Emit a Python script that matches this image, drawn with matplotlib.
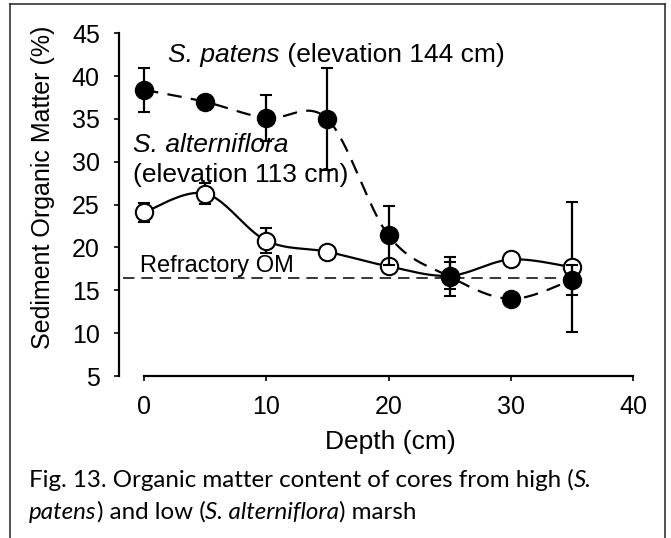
import numpy as np
import matplotlib
matplotlib.use("Agg")
import matplotlib.pyplot as plt
from matplotlib.lines import Line2D

# Sediment organic matter (%) by core depth (cm)
depth = [0, 5, 10, 15, 20, 25, 30, 35]
patens_om = [38.4, 37.0, 35.1, 35.0, 21.4, 16.6, 14.0, 16.2]
patens_err = [2.6, 0.3, 2.7, 5.9, 3.5, 2.3, 0.5, 1.8]
altern_om = [24.1, 26.3, 20.8, 19.5, 17.8, 16.7, 18.6, 17.7]
altern_err = [1.1, 1.2, 1.5, 0.4, 0.4, 1.6, 0.4, 7.6]
refractory_om = 16.4
refractory_span = [-1.7, 35]

x_ticks = [0, 10, 20, 30, 40]
y_ticks = [5, 10, 15, 20, 25, 30, 35, 40, 45]

W, H = 671, 538
SANS = "Liberation Sans"
CAPTION_FONT = "Lato"


def smooth_curve(x, y, n=40):
    """Bezier smoothing through every point (Catmull-Rom tangents)."""
    x = np.asarray(x, float)
    y = np.asarray(y, float)
    px = np.concatenate([[x[0]], x, [x[-1]]])
    py = np.concatenate([[y[0]], y, [y[-1]]])
    t = np.linspace(0, 1, n)[:, None]
    out = []
    for i in range(1, len(px) - 2):
        p0 = np.array([px[i], py[i]])
        p3 = np.array([px[i + 1], py[i + 1]])
        c1 = p0 + np.array([px[i + 1] - px[i - 1], py[i + 1] - py[i - 1]]) / 6
        c2 = p3 - np.array([px[i + 2] - px[i], py[i + 2] - py[i]]) / 6
        seg = ((1 - t) ** 3) * p0 + 3 * ((1 - t) ** 2) * t * c1 \
            + 3 * (1 - t) * t ** 2 * c2 + t ** 3 * p3
        out.append(seg if i == 1 else seg[1:])
    pts = np.vstack(out)
    return pts[:, 0], pts[:, 1]


fig = plt.figure(figsize=(W / 100, H / 100), dpi=100)
renderer = fig.canvas.get_renderer()


def text_width(s, **kw):
    """Pixel width of a string, spaces included."""
    a = fig.text(0, 0, "|" + s + "|", **kw)
    b = fig.text(0, 0, "||", **kw)
    w = a.get_window_extent(renderer).width - b.get_window_extent(renderer).width
    a.remove()
    b.remove()
    return w


def draw_runs(x_px, y_px, runs, **kw):
    """Write (text, style) runs one after another along a baseline."""
    x = x_px
    for s, style in runs:
        fig.text(x / W, 1 - y_px / H, s, style=style, ha="left",
                 va="baseline", **kw)
        x += text_width(s, style=style, **kw)


# outer frame
frame_kw = dict(color="#222222", lw=1.1, transform=fig.transFigure)
fig.add_artist(Line2D([10 / W, 10 / W], [0, 1 - 4 / H], **frame_kw))
fig.add_artist(Line2D([10 / W, 665 / W], [1 - 4 / H, 1 - 4 / H], **frame_kw))
fig.add_artist(Line2D([665 / W, 665 / W], [0, 1 - 4 / H], **frame_kw))

ax = fig.add_axes([119 / W, 162 / H, 514 / W, 342.7 / H])
ax.set_xlim(-2.05, 40)
ax.set_ylim(5, 45)
for side in ("top", "right"):
    ax.spines[side].set_visible(False)
ax.spines["bottom"].set_bounds(0, 40)
for side in ("left", "bottom"):
    ax.spines[side].set_linewidth(1.6)
ax.set_xticks(x_ticks)
ax.set_yticks(y_ticks)
ax.tick_params(direction="out", length=3.8, width=1.2, pad=10,
               labelsize=18)
for lab in ax.get_xticklabels() + ax.get_yticklabels():
    lab.set_fontfamily(SANS)

# refractory OM baseline
ax.plot(refractory_span, [refractory_om, refractory_om], color="black",
        lw=1.1, dashes=[7.5, 4.5], zorder=2)

# smoothed series lines
sx, sy = smooth_curve(depth, altern_om)
ax.plot(sx, sy, color="black", lw=1.6, zorder=3)
sx, sy = smooth_curve(depth, patens_om)
ax.plot(sx, sy, color="black", lw=1.6, dashes=[6.5, 4.2], zorder=3)

# markers with error bars
ax.errorbar(depth, altern_om, yerr=altern_err, fmt="o", ms=12.5,
            mfc="white", mec="black", mew=1.5, ecolor="black",
            elinewidth=1.6, capsize=4.3, capthick=1.6, zorder=4)
ax.errorbar(depth, patens_om, yerr=patens_err, fmt="o", ms=12.5,
            mfc="black", mec="black", mew=1.5, ecolor="black",
            elinewidth=1.6, capsize=4.3, capthick=1.6, zorder=5)

# axis titles
fig.text(390 / W, 1 - 442 / H, "Depth (cm)", ha="center", va="center",
         fontsize=19, family=SANS)
fig.text(43 / W, 1 - 187 / H, "Sediment Organic Matter (%)", ha="center",
         va="center", rotation=90, fontsize=18, family=SANS)

# series annotations
draw_runs(168, 62, [("S. patens", "italic"),
                    (" (elevation 144 cm)", "normal")],
          fontsize=19, family=SANS)
draw_runs(133, 152, [("S. alterniflora", "italic")], fontsize=19, family=SANS)
draw_runs(133, 182, [("(elevation 113 cm)", "normal")], fontsize=19,
          family=SANS)
draw_runs(140, 272, [("Refractory OM", "normal")], fontsize=17, family=SANS)

# figure caption
draw_runs(29, 487, [("Fig. 13. Organic matter content of cores from high (",
                     "normal"), ("S.", "italic")],
          fontsize=17.4, family=CAPTION_FONT)
draw_runs(29, 519, [("patens", "italic"), (") and low (", "normal"),
                    ("S. alterniflora", "italic"), (") marsh", "normal")],
          fontsize=17.4, family=CAPTION_FONT)

fig.savefig("out.png", dpi=100)
